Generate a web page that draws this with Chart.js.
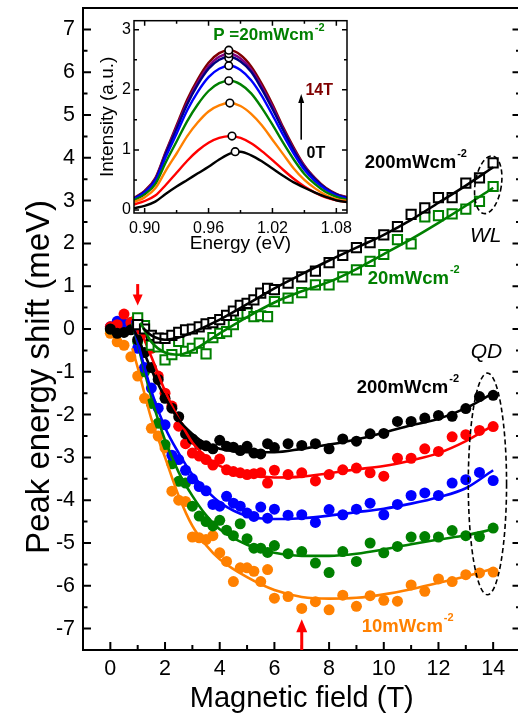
<!DOCTYPE html>
<html>
<head>
<meta charset="utf-8">
<script src="https://cdn.jsdelivr.net/npm/chart.js@4/dist/chart.umd.min.js"></script>
<style>
  html, body { margin: 0; padding: 0; overflow: hidden; background: #fff; }
  #wrap { position: relative; width: 518px; height: 716px; overflow: hidden; }
  #mainChart { position: absolute; left: 0; top: 0; }
  #insetChart { position: absolute; left: 95px; top: 14px; }
</style>
</head>
<body>
<div id="wrap">
  <canvas id="mainChart" width="526" height="716"></canvas>
  <canvas id="insetChart" width="262" height="246"></canvas>
</div>
<script>
// ---- main panel data: peak energy shift (meV) vs magnetic field (T) ----
var fieldQD = [0, 0.25, 0.5, 0.75, 1, 1.25, 1.5, 1.75, 2, 2.25, 2.5, 2.75, 3, 3.25, 3.5, 3.75, 4, 4.25, 4.5, 4.75, 5, 5.25, 5.5, 5.75, 6,
               6.5, 7, 7.5, 8, 8.5, 9, 9.5, 10, 10.5, 11, 11.5, 12, 12.5, 13, 13.5, 14];
var qdBlack  = [0, -0.1, -0.08, -0.02, -0.25, -0.55, -0.9, -1.18, -1.62, -1.85, -2.05, -2.45, -2.57, -2.7, -2.73, -2.8, -2.6, -2.74, -2.76, -2.84, -2.74, -2.9, -2.92, -2.68, -2.77,
                -2.68, -2.72, -2.68, -2.8, -2.57, -2.62, -2.45, -2.44, -2.16, -2.16, -2.08, -2.02, -2.04, -1.86, -1.58, -1.55];
var qdRed    = [0.05, 0.1, 0.35, 0.15, 0, -0.08, -0.45, -1.1, -1.5, -1.8, -2.27, -2.68, -2.9, -2.97, -3.05, -3.18, -3.04, -3.29, -3.33, -3.36, -3.4, -3.38, -3.36, -3.6, -3.3,
                -3.4, -3.36, -3.55, -3.4, -3.29, -3.25, -3.36, -3.44, -3.02, -3.02, -2.8, -2.86, -2.52, -2.47, -2.37, -2.28];
var qdBlue   = [0.05, 0.18, 0.12, 0.05, -0.45, -0.9, -1.38, -1.85, -2.24, -2.95, -3.05, -3.3, -3.5, -3.68, -3.78, -4.1, -4.14, -3.91, -4.07, -4.14, -4.3, -4.38, -4.16, -4.42, -4.21,
                -4.35, -4.34, -4.52, -4.22, -4.34, -4.21, -4.07, -4.34, -4.1, -3.89, -3.83, -3.89, -3.6, -3.52, -3.35, -3.54];
var qdGreen  = [0, 0.05, 0.1, 0.15, -0.3, -1.0, -1.74, -2.2, -2.7, -3.15, -3.56, -3.6, -4.14, -4.37, -4.5, -4.6, -4.47, -4.7, -4.83, -4.55, -4.9, -5.12, -5.12, -5.22, -5.06,
                -5.25, -5.2, -5.47, -5.69, -5.2, -5.43, -5.0, -5.23, -5.08, -4.86, -4.85, -4.86, -4.71, -4.83, -4.85, -4.65];
var qdOrange = [-0.1, -0.3, -0.38, -0.65, -1.1, -1.62, -2.32, -2.5, -2.78, -3.79, -4.0, -4.03, -4.86, -4.88, -4.92, -4.83, -5.23, -5.43, -5.9, -5.58, -5.58, -5.66, -5.9, -5.62, -6.29,
                -6.25, -6.53, -6.37, -6.56, -6.22, -6.48, -6.23, -6.34, -6.36, -5.98, -6.13, -5.84, -5.9, -5.74, -5.7, -5.68];

var fieldFitQD = [0.8, 1, 1.5, 2, 2.5, 3, 3.5, 4, 5, 6, 7, 8, 9, 10, 11, 12, 13, 14];
var fitBlack  = [0.05, -0.2, -0.95, -1.6, -2.12, -2.45, -2.68, -2.8, -2.88, -2.88, -2.8, -2.7, -2.58, -2.42, -2.25, -2.1, -1.85, -1.5];
var fitRed    = [0.3, 0.1, -0.65, -1.45, -2.1, -2.65, -2.98, -3.2, -3.4, -3.47, -3.45, -3.37, -3.28, -3.2, -3.07, -2.9, -2.62, -2.25];
var fitBlue   = [0.2, -0.3, -1.45, -2.3, -2.9, -3.4, -3.76, -4.05, -4.37, -4.44, -4.42, -4.36, -4.28, -4.2, -4.08, -3.93, -3.72, -3.3];
var fitGreen  = [0.15, -0.35, -1.6, -2.6, -3.35, -3.9, -4.35, -4.68, -5.04, -5.23, -5.3, -5.3, -5.25, -5.15, -5.03, -4.92, -4.82, -4.68];
var fitOrange = [-0.45, -0.9, -2.1, -3.0, -3.9, -4.6, -5.05, -5.38, -5.8, -6.1, -6.26, -6.3, -6.28, -6.2, -6.08, -5.93, -5.78, -5.6];

var fieldWL = [1, 1.25, 1.5, 1.75, 2, 2.25, 2.5, 2.75, 3, 3.25, 3.5, 3.75, 4, 4.25, 4.5, 4.75, 5, 5.25, 5.5, 5.75, 6,
               6.5, 7, 7.5, 8, 8.5, 9, 9.5, 10, 10.5, 11, 11.5, 12, 12.5, 13, 13.5, 14];
var wlBlack = [0.1, 0, -0.15, -0.21, -0.22, -0.15, -0.08, -0.02, 0, 0.05, 0.12, 0.15, 0.22, 0.32, 0.42, 0.55, 0.6, 0.68, 0.84, 0.95, 0.92,
               1.07, 1.22, 1.35, 1.55, 1.72, 1.9, 2.02, 2.2, 2.39, 2.68, 2.83, 3.07, 3.07, 3.41, 3.53, 3.88];
var wlGreen = [0.26, 0.08, -0.38, -0.42, -0.72, -0.6, -0.29, -0.52, -0.45, -0.33, -0.58, -0.2, -0.1, -0.06, 0.1, 0.35, 0.37, 0.29, 0.31, 0.29, 0.64,
               0.72, 0.85, 1.03, 1.03, 1.22, 1.38, 1.58, 1.74, 2.09, 1.99, 2.62, 2.65, 2.69, 2.8, 2.98, 3.33];

var fieldFitWLBlack = [1.2, 1.5, 2, 2.5, 3, 4, 5, 6, 7, 8, 9, 10, 11, 12, 13, 14];
var fitWLBlack      = [0.02, -0.15, -0.25, -0.2, -0.08, 0.22, 0.58, 0.95, 1.28, 1.6, 1.9, 2.2, 2.55, 2.95, 3.35, 3.78];
var fieldFitWLGreen = [1.1, 1.5, 2, 2.5, 3, 4, 5, 6, 7, 8, 9, 10, 11, 12, 13, 14];
var fitWLGreen      = [0.15, -0.3, -0.55, -0.6, -0.5, -0.1, 0.28, 0.62, 0.88, 1.1, 1.4, 1.75, 2.1, 2.48, 2.88, 3.3];

var xTickLabels = [0, 2, 4, 6, 8, 10, 12, 14];
var xMinorTicks = [1, 3, 5, 7, 9, 11, 13];
var yTickLabels = [-7, -6, -5, -4, -3, -2, -1, 0, 1, 2, 3, 4, 5, 6, 7];
var yMinorTicks = [-6.5, -5.5, -4.5, -3.5, -2.5, -1.5, -0.5, 0.5, 1.5, 2.5, 3.5, 4.5, 5.5, 6.5];

// ---- inset data: PL spectra at 20 mWcm-2, 0 T .. 14 T ----
var energy = [0.89, 0.90, 0.91, 0.92, 0.93, 0.94, 0.95, 0.96, 0.97, 0.98, 0.99, 1.00, 1.01, 1.02, 1.03, 1.04, 1.05, 1.06, 1.07, 1.08, 1.09];
var spec0T  = [0.03, 0.07, 0.14, 0.27, 0.39, 0.50, 0.61, 0.72, 0.84, 0.94, 0.97, 0.91, 0.81, 0.69, 0.57, 0.46, 0.37, 0.29, 0.22, 0.16, 0.13];
var specRed = [0.09, 0.15, 0.24, 0.42, 0.62, 0.82, 0.99, 1.12, 1.20, 1.23, 1.20, 1.11, 0.98, 0.83, 0.67, 0.52, 0.39, 0.29, 0.21, 0.16, 0.13];
var specOrange = [0.13, 0.21, 0.36, 0.66, 0.94, 1.23, 1.46, 1.64, 1.74, 1.78, 1.73, 1.60, 1.41, 1.17, 0.93, 0.69, 0.50, 0.36, 0.25, 0.18, 0.15];
var specGreen  = [0.16, 0.26, 0.43, 0.80, 1.14, 1.48, 1.76, 1.98, 2.11, 2.15, 2.09, 1.94, 1.70, 1.42, 1.12, 0.84, 0.60, 0.43, 0.30, 0.22, 0.17];
var specBlue   = [0.18, 0.29, 0.48, 0.89, 1.27, 1.66, 1.97, 2.21, 2.35, 2.40, 2.33, 2.16, 1.90, 1.58, 1.25, 0.94, 0.67, 0.48, 0.34, 0.24, 0.19];
var specNavy   = [0.19, 0.30, 0.50, 0.94, 1.35, 1.76, 2.09, 2.35, 2.50, 2.55, 2.47, 2.30, 2.01, 1.68, 1.33, 0.99, 0.71, 0.51, 0.36, 0.26, 0.20];
var specPurple = [0.19, 0.31, 0.52, 0.96, 1.38, 1.79, 2.13, 2.39, 2.55, 2.60, 2.52, 2.34, 2.05, 1.72, 1.35, 1.01, 0.73, 0.52, 0.36, 0.26, 0.21];
var spec14T    = [0.20, 0.32, 0.53, 0.98, 1.41, 1.84, 2.18, 2.45, 2.61, 2.66, 2.58, 2.39, 2.10, 1.76, 1.38, 1.04, 0.74, 0.53, 0.37, 0.27, 0.21];
var peakEnergy = [0.985, 0.982, 0.980, 0.979, 0.979, 0.979, 0.979, 0.979];
var peakHeight = [0.97, 1.23, 1.78, 2.15, 2.40, 2.53, 2.60, 2.66];

var insetXTicks = [0.90, 0.96, 1.02, 1.08];
var insetXMinor = [0.93, 0.99, 1.05];
var insetYTicks = [0, 1, 2, 3];
var insetYMinor = [0.5, 1.5, 2.5];

var FONT = '"Liberation Sans", Arial, Helvetica, sans-serif';

function pairs(xs, ys) {
  var out = [];
  for (var i = 0; i < xs.length; i = i + 1) {
    if (ys[i] !== null) out.push({ x: xs[i], y: ys[i] });
  }
  return out;
}

// keep the plot boxes where the original has them
function fixWidth(w) {
  return function (scale) {
    scale.width = w;
    scale.paddingTop = 0; scale.paddingBottom = 0; scale.paddingLeft = 0; scale.paddingRight = 0;
  };
}
function fixHeight(h) {
  return function (scale) {
    scale.height = h;
    scale.paddingTop = 0; scale.paddingBottom = 0; scale.paddingLeft = 0; scale.paddingRight = 0;
  };
}
function setTicks(values) {
  return function (scale) {
    scale.ticks = values.map(function (v) { return { value: v }; });
  };
}

function fitLine(xs, ys, color) {
  return {
    data: pairs(xs, ys), showLine: true, borderColor: color, borderWidth: 2.6,
    pointRadius: 0, cubicInterpolationMode: 'monotone', fill: false
  };
}
function dots(xs, ys, color) {
  return {
    data: pairs(xs, ys), showLine: false, pointStyle: 'circle', pointRadius: 5.5,
    backgroundColor: color, borderColor: color, borderWidth: 0
  };
}
function squares(xs, ys, color) {
  return {
    data: pairs(xs, ys), showLine: false, pointStyle: 'rect', pointRadius: 6.5,
    backgroundColor: '#fff', borderColor: color, borderWidth: 2
  };
}

function arrowV(ctx, x, yFrom, yTo, color, shaftW, headW, headL) {
  var dir = yTo > yFrom ? 1 : -1;
  ctx.save();
  ctx.strokeStyle = color; ctx.fillStyle = color; ctx.lineWidth = shaftW;
  ctx.beginPath();
  ctx.moveTo(x, yFrom);
  ctx.lineTo(x, yTo - dir * headL * 0.8);
  ctx.stroke();
  ctx.beginPath();
  ctx.moveTo(x, yTo);
  ctx.lineTo(x - headW / 2, yTo - dir * headL);
  ctx.lineTo(x + headW / 2, yTo - dir * headL);
  ctx.closePath();
  ctx.fill();
  ctx.restore();
}

function unitLabel(ctx, x, y, main, sup, color, size) {
  ctx.fillStyle = color;
  ctx.textAlign = 'left';
  ctx.textBaseline = 'middle';
  ctx.font = 'bold ' + size + 'px ' + FONT;
  ctx.fillText(main, x, y);
  var w = ctx.measureText(main).width;
  ctx.font = 'bold ' + Math.round(size * 0.62) + 'px ' + FONT;
  ctx.fillText(sup, x + w + 1, y - size * 0.45);
}

// decorations of the main panel: frame, inward ticks, arrows, ellipses, labels
var mainDecor = {
  id: 'mainDecor',
  afterDatasetsDraw: function (chart) {
    var ctx = chart.ctx, a = chart.chartArea, xs = chart.scales.x, ys = chart.scales.y;
    ctx.save();
    ctx.strokeStyle = '#000';
    ctx.lineWidth = 2;
    ctx.strokeRect(a.left, a.top, a.right - a.left, a.bottom - a.top);
    ctx.beginPath();
    xTickLabels.forEach(function (v) { var p = xs.getPixelForValue(v); ctx.moveTo(p, a.bottom); ctx.lineTo(p, a.bottom - 8); });
    xMinorTicks.forEach(function (v) { var p = xs.getPixelForValue(v); ctx.moveTo(p, a.bottom); ctx.lineTo(p, a.bottom - 5); });
    yTickLabels.forEach(function (v) {
      var p = ys.getPixelForValue(v);
      ctx.moveTo(a.left, p); ctx.lineTo(a.left + 8, p);
      ctx.moveTo(a.right, p); ctx.lineTo(a.right - 8, p);
    });
    yMinorTicks.forEach(function (v) {
      var p = ys.getPixelForValue(v);
      ctx.moveTo(a.left, p); ctx.lineTo(a.left + 4.5, p);
      ctx.moveTo(a.right, p); ctx.lineTo(a.right - 4.5, p);
    });
    ctx.stroke();

    // red arrows
    arrowV(ctx, xs.getPixelForValue(1), ys.getPixelForValue(1.05), ys.getPixelForValue(0.55), '#ff0000', 3, 10, 11);
    arrowV(ctx, xs.getPixelForValue(7), ys.getPixelForValue(-7.5), ys.getPixelForValue(-6.78), '#ff0000', 3, 11, 13);

    // dashed ellipses round the 14 T points
    ctx.setLineDash([5, 3]);
    ctx.lineWidth = 1.6;
    ctx.strokeStyle = '#000';
    ctx.beginPath();
    var cx = xs.getPixelForValue(13.82), cy = ys.getPixelForValue(3.37);
    ctx.ellipse(cx, cy, Math.abs(xs.getPixelForValue(14.3) - cx), Math.abs(ys.getPixelForValue(4.05) - cy), 0.15, 0, Math.PI * 2);
    ctx.stroke();
    ctx.beginPath();
    cx = xs.getPixelForValue(13.79); cy = ys.getPixelForValue(-3.62);
    ctx.ellipse(cx, cy, Math.abs(xs.getPixelForValue(14.49) - cx), Math.abs(ys.getPixelForValue(-1.03) - cy), 0, 0, Math.PI * 2);
    ctx.stroke();
    ctx.setLineDash([]);

    // labels
    unitLabel(ctx, xs.getPixelForValue(9.3), ys.getPixelForValue(3.89), '200mWcm', '-2', '#000', 18.5);
    unitLabel(ctx, xs.getPixelForValue(9.41), ys.getPixelForValue(1.18), '20mWcm', '-2', '#008000', 18.5);
    unitLabel(ctx, xs.getPixelForValue(9.01), ys.getPixelForValue(-1.37), '200mWcm', '-2', '#000', 18.5);
    unitLabel(ctx, xs.getPixelForValue(9.19), ys.getPixelForValue(-6.95), '10mWcm', '-2', '#ff8000', 18.5);
    ctx.fillStyle = '#000';
    ctx.font = 'italic 21px ' + FONT;
    ctx.fillText('WL', xs.getPixelForValue(13.15), ys.getPixelForValue(2.18));
    ctx.fillText('QD', xs.getPixelForValue(13.18), ys.getPixelForValue(-0.53));

    // y axis title
    ctx.translate(40, 377);
    ctx.rotate(-Math.PI / 2);
    ctx.font = '33px ' + FONT;
    ctx.textAlign = 'center';
    ctx.textBaseline = 'middle';
    ctx.fillText('Peak energy shift (meV)', 0, 0);
    ctx.restore();
  }
};

new Chart(document.getElementById('mainChart'), {
  type: 'scatter',
  data: {
    datasets: [
      fitLine(fieldFitWLBlack, fitWLBlack, '#000'),
      fitLine(fieldFitWLGreen, fitWLGreen, '#008000'),
      squares(fieldWL, wlBlack, '#000'),
      squares(fieldWL, wlGreen, '#008000'),
      fitLine(fieldFitQD, fitBlack, '#000'),
      fitLine(fieldFitQD, fitRed, '#ff0000'),
      fitLine(fieldFitQD, fitBlue, '#0000ff'),
      fitLine(fieldFitQD, fitGreen, '#008000'),
      fitLine(fieldFitQD, fitOrange, '#ff8000'),
      dots(fieldQD, qdBlack, '#000'),
      dots(fieldQD, qdRed, '#ff0000'),
      dots(fieldQD, qdBlue, '#0000ff'),
      dots(fieldQD, qdGreen, '#008000'),
      dots(fieldQD, qdOrange, '#ff8000')
    ]
  },
  options: {
    responsive: false,
    animation: false,
    layout: { autoPadding: false, padding: { top: 8, right: 5.5, bottom: 0, left: 0 } },
    plugins: { legend: { display: false }, tooltip: { enabled: false } },
    scales: {
      x: {
        type: 'linear', min: -1, max: 15,
        afterBuildTicks: setTicks(xTickLabels),
        afterFit: fixHeight(66),
        grid: { display: false, drawTicks: false }, border: { display: false },
        ticks: { color: '#000', padding: 6, font: { family: FONT, size: 21.5 }, callback: function (v) { return String(v); } },
        title: { display: true, text: 'Magnetic field (T)', color: '#000', font: { family: FONT, size: 29 }, padding: { top: 0, bottom: 0 } }
      },
      y: {
        type: 'linear', min: -7.5, max: 7.5,
        afterBuildTicks: setTicks(yTickLabels),
        afterFit: fixWidth(83),
        grid: { display: false, drawTicks: false }, border: { display: false },
        ticks: { color: '#000', padding: 8, font: { family: FONT, size: 21.5 }, callback: function (v) { return String(v); } }
      }
    }
  },
  plugins: [mainDecor]
});

// ---- inset ----
var insetDecor = {
  id: 'insetDecor',
  afterDatasetsDraw: function (chart) {
    var ctx = chart.ctx, a = chart.chartArea, xs = chart.scales.x, ys = chart.scales.y;
    ctx.save();
    ctx.strokeStyle = '#000';
    ctx.lineWidth = 1.5;
    ctx.strokeRect(a.left, a.top, a.right - a.left, a.bottom - a.top);
    ctx.beginPath();
    insetXTicks.forEach(function (v) { var p = xs.getPixelForValue(v); ctx.moveTo(p, a.bottom); ctx.lineTo(p, a.bottom - 5); ctx.moveTo(p, a.top); ctx.lineTo(p, a.top + 5); });
    insetXMinor.forEach(function (v) { var p = xs.getPixelForValue(v); ctx.moveTo(p, a.bottom); ctx.lineTo(p, a.bottom - 3); ctx.moveTo(p, a.top); ctx.lineTo(p, a.top + 3); });
    insetYTicks.forEach(function (v) { var p = ys.getPixelForValue(v); ctx.moveTo(a.left, p); ctx.lineTo(a.left + 5, p); ctx.moveTo(a.right, p); ctx.lineTo(a.right - 5, p); });
    insetYMinor.forEach(function (v) { var p = ys.getPixelForValue(v); ctx.moveTo(a.left, p); ctx.lineTo(a.left + 3, p); ctx.moveTo(a.right, p); ctx.lineTo(a.right - 3, p); });
    ctx.stroke();

    arrowV(ctx, xs.getPixelForValue(1.047), ys.getPixelForValue(1.17), ys.getPixelForValue(1.93), '#000', 1.6, 6, 9);

    ctx.font = 'bold 16px ' + FONT;
    ctx.textAlign = 'left';
    ctx.textBaseline = 'middle';
    ctx.fillStyle = '#800000';
    ctx.fillText('14T', xs.getPixelForValue(1.051), ys.getPixelForValue(1.99));
    ctx.fillStyle = '#000';
    ctx.fillText('0T', xs.getPixelForValue(1.052), ys.getPixelForValue(0.94));
    unitLabel(ctx, xs.getPixelForValue(0.9644), ys.getPixelForValue(2.9), 'P =20mWcm', '-2', '#008000', 17);
    ctx.restore();
  }
};

function specLine(ys, color) {
  return {
    data: pairs(energy, ys), showLine: true, borderColor: color, borderWidth: 2.4,
    pointRadius: 0, cubicInterpolationMode: 'monotone', fill: false
  };
}

new Chart(document.getElementById('insetChart'), {
  type: 'scatter',
  data: {
    datasets: [
      {
        data: pairs(peakEnergy, peakHeight), showLine: false, pointStyle: 'circle', pointRadius: 3.8,
        backgroundColor: '#fff', borderColor: '#000', borderWidth: 1.6
      },
      specLine(spec0T, '#000000'),
      specLine(specRed, '#ff0000'),
      specLine(specOrange, '#ff8000'),
      specLine(specGreen, '#008000'),
      specLine(specBlue, '#0000ff'),
      specLine(specNavy, '#000080'),
      specLine(specPurple, '#800080'),
      specLine(spec14T, '#800000')
    ]
  },
  options: {
    responsive: false,
    animation: false,
    layout: { autoPadding: false, padding: { top: 6.7, right: 10, bottom: 0, left: 0 } },
    plugins: { legend: { display: false }, tooltip: { enabled: false } },
    scales: {
      x: {
        type: 'linear', min: 0.89, max: 1.09,
        afterBuildTicks: setTicks(insetXTicks),
        afterFit: fixHeight(47),
        grid: { display: false, drawTicks: false }, border: { display: false },
        ticks: { color: '#000', padding: 6, font: { family: FONT, size: 16 }, callback: function (v) { return v.toFixed(2); } },
        title: { display: true, text: 'Energy (eV)', color: '#000', font: { family: FONT, size: 19 }, padding: { top: 0, bottom: 5 } }
      },
      y: {
        type: 'linear', min: -0.05, max: 3.15,
        afterBuildTicks: setTicks(insetYTicks),
        afterFit: fixWidth(39),
        grid: { display: false, drawTicks: false }, border: { display: false },
        ticks: { color: '#000', padding: 3, font: { family: FONT, size: 16 }, callback: function (v) { return String(v); } },
        title: { display: true, text: 'Intensity (a.u.)', color: '#000', font: { family: FONT, size: 19 }, padding: { top: 1, bottom: 0 } }
      }
    }
  },
  plugins: [insetDecor]
});
</script>
</body>
</html>
